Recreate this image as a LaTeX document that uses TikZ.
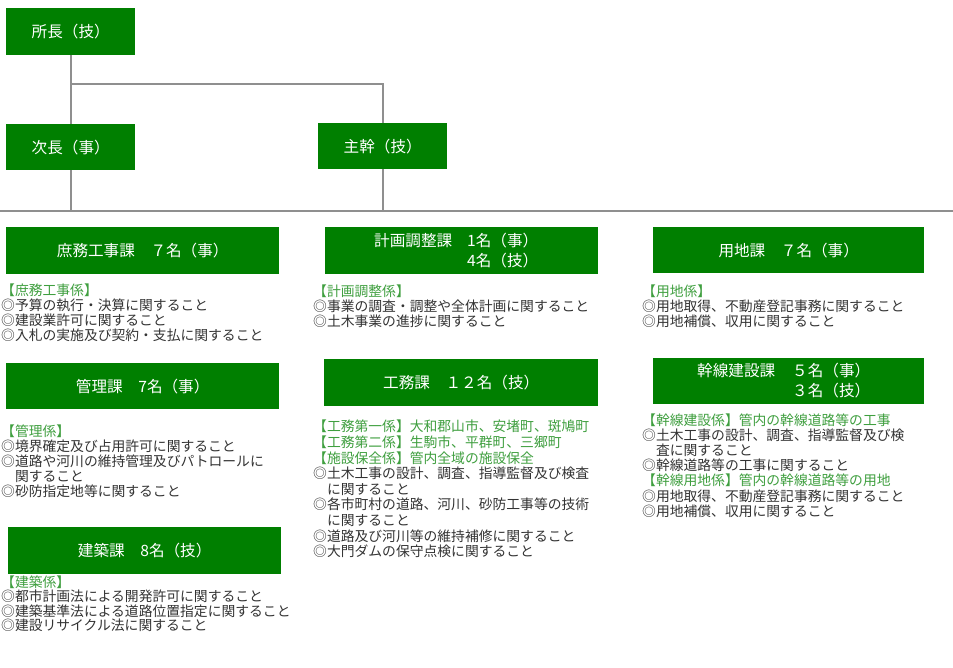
\documentclass[tikz,border=0pt]{standalone}
\usepackage{fontspec}
\setmainfont{Noto Sans CJK JP}
\definecolor{boxgreen}{HTML}{007F00}
\definecolor{lblgreen}{HTML}{3F9F3F}
\definecolor{bodygray}{HTML}{333333}
\definecolor{linegray}{HTML}{8F8F8F}
\tikzset{
  gbox/.style={fill=boxgreen, draw=none, text=white, inner sep=0pt, anchor=north west,
    font=\fontsize{15.6}{18}\selectfont},
  btext/.style={text=white, inner sep=0pt, anchor=west, font=\fontsize{15.6}{18}\selectfont},
  body/.style={anchor=base west, inner sep=0pt, text width=330pt, align=left,
    text=bodygray, font=\fontsize{13.8}{#1}\selectfont},
  conn/.style={draw=linegray, line width=2pt}
}
\newcommand{\lbl}[1]{\textcolor{lblgreen}{#1}}
\newcommand{\ind}{\phantom{◎}}
\begin{document}
\begin{tikzpicture}[x=1pt,y=-1pt]
\useasboundingbox (0,0) rectangle (953,667);
\fill[white] (0,0) rectangle (953,667);

% top boxes
\node[gbox, minimum width=129pt, minimum height=47pt] (shocho) at (6,8) {所長（技）};
\node[gbox, minimum width=129pt, minimum height=46pt] (jicho) at (6,124) {次長（事）};
\node[gbox, minimum width=129pt, minimum height=46pt] (shukan) at (318,123) {主幹（技）};

% connectors
\coordinate (hbar) at (0,84);
\coordinate (busL) at (0,211);
\coordinate (busR) at (953,211);
\draw[conn] (busL) -- (busR);
\draw[conn] (shocho.south) -- (jicho.north);
\draw[conn] (shocho.south |- hbar) -| (shukan.north);
\draw[conn] (jicho.south) -- (jicho.south |- busL);
\draw[conn] (shukan.south) -- (shukan.south |- busL);

% section boxes
\node[gbox, minimum width=273pt, minimum height=47pt] (shomu) at (6,227) {庶務工事課　７名（事）};
\node[gbox, minimum width=273pt, minimum height=46pt] (kanri) at (6,363) {管理課　7名（事）};
\node[gbox, minimum width=273pt, minimum height=47pt] (kenchiku) at (8,527) {建築課　8名（技）};
\node[gbox, minimum width=273pt, minimum height=47pt] (keikaku) at (325,227) {};
\node[btext] (keikakuname) at (374,241) {計画調整課};
\node[btext] (keikakuA) at (467,241) {1名（事）};
\node[btext] (keikakuB) at (467,261) {4名（技）};
\node[gbox, minimum width=274pt, minimum height=47pt] (komu) at (324,359) {工務課　１２名（技）};
\node[gbox, minimum width=271pt, minimum height=46pt] (yochi) at (653,227) {用地課　７名（事）};
\node[gbox, minimum width=271pt, minimum height=46pt] (kansen) at (653,358) {};
\node[btext] (kansenname) at (697,371) {幹線建設課};
\node[btext] (kansenA) at (792,371) {５名（事）};
\node[btext] (kansenB) at (792,391) {３名（技）};

% text blocks
\node[body=15] (shomutxt) at (1,295.5) {\lbl{【庶務工事係】}\\
◎予算の執行・決算に関すること\\
◎建設業許可に関すること\\
◎入札の実施及び契約・支払に関すること};

\node[body=15.1] (kanritxt) at (1,436) {\lbl{【管理係】}\\
◎境界確定及び占用許可に関すること\\
◎道路や河川の維持管理及びパトロールに\\
\ind 関すること\\
◎砂防指定地等に関すること};

\node[body=14.5] (kenchikutxt) at (1,587) {\lbl{【建築係】}\\
◎都市計画法による開発許可に関すること\\
◎建築基準法による道路位置指定に関すること\\
◎建設リサイクル法に関すること};

\node[body=14.8] (keikakutxt) at (313,296.5) {\lbl{【計画調整係】}\\
◎事業の調査・調整や全体計画に関すること\\
◎土木事業の進捗に関すること};

\node[body=15.6] (komutxt) at (313,431.8) {\lbl{【工務第一係】大和郡山市、安堵町、斑鳩町}\\
\lbl{【工務第二係】生駒市、平群町、三郷町}\\
\lbl{【施設保全係】管内全域の施設保全}\\
◎土木工事の設計、調査、指導監督及び検査\\
\ind に関すること\\
◎各市町村の道路、河川、砂防工事等の技術\\
\ind に関すること\\
◎道路及び河川等の維持補修に関すること\\
◎大門ダムの保守点検に関すること};

\node[body=14.8] (yochitxt) at (642,296.5) {\lbl{【用地係】}\\
◎用地取得、不動産登記事務に関すること\\
◎用地補償、収用に関すること};

\node[body=15.2] (kansentxt) at (642,425) {\lbl{【幹線建設係】管内の幹線道路等の工事}\\
◎土木工事の設計、調査、指導監督及び検\\
\ind 査に関すること\\
◎幹線道路等の工事に関すること\\
\lbl{【幹線用地係】管内の幹線道路等の用地}\\
◎用地取得、不動産登記事務に関すること\\
◎用地補償、収用に関すること};
\end{tikzpicture}
\end{document}
